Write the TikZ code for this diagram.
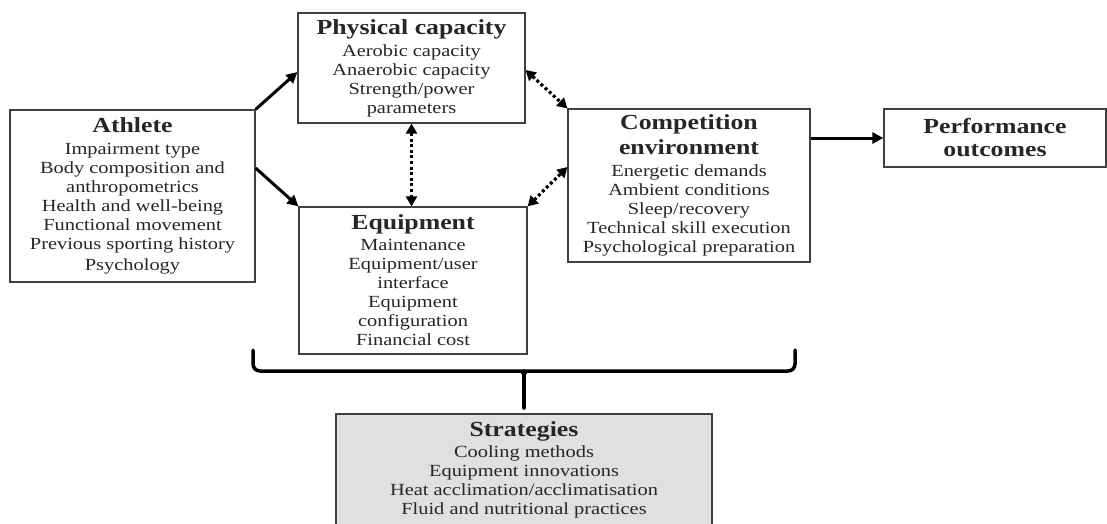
\documentclass[tikz,border=0pt]{standalone}
\usepackage{fontspec}
\setmainfont[FakeStretch=1.2]{Liberation Serif}
\usetikzlibrary{arrows.meta,calc}
\newcommand\ttlfont{\fontsize{21.5}{23}\selectfont\bfseries}
\newcommand\bodyfont{\fontsize{17}{19}\selectfont}
\tikzset{
  x=1pt,y=-1pt,
  box/.style={draw=black!75,line width=1.2pt,inner sep=0pt,align=center,font=\bodyfont,text=black!85},
  solidarr/.style={line width=3pt,-{Triangle[length=11pt,width=11pt]}},
  dotarr/.style={line width=3.2pt,dash pattern=on 3pt off 2.6pt,{Triangle[length=10pt,width=11pt]}-{Triangle[length=10pt,width=11pt]}},
  bracestyle/.style={line width=3.5pt,line cap=round,line join=round}
}
\begin{document}
\begin{tikzpicture}
\useasboundingbox (0,0) rectangle (1107,523);
\node[box,minimum width=245pt,minimum height=172pt] (ath) at (132.5,196)
  {{\ttlfont Athlete}\\[3pt] Impairment type\\ Body composition and\\ anthropometrics\\ Health and well-being\\ Functional movement\\ Previous sporting history\\[2pt] Psychology};
\node[box,minimum width=227pt,minimum height=110pt] (phys) at (411.5,68)
  {{\ttlfont Physical capacity}\\[3pt] Aerobic capacity\\ Anaerobic capacity\\ Strength/power\\ parameters};
\node[box,minimum width=228pt,minimum height=147pt] (equip) at (413,280.5)
  {{\ttlfont Equipment}\\[2pt] Maintenance\\ Equipment/user\\ interface\\ Equipment\\ configuration\\ Financial cost};
\node[box,minimum width=242pt,minimum height=153pt] (comp) at (689,185.5)
  {{\ttlfont Competition}\\[4pt] {\ttlfont environment}\\[3pt] Energetic demands\\ Ambient conditions\\ Sleep/recovery\\ Technical skill execution\\ Psychological preparation};
\node[box,minimum width=222pt,minimum height=58pt] (perf) at (995,138)
  {{\ttlfont Performance}\\[4pt] {\ttlfont outcomes}};
\node[box,fill=black!12,minimum width=376pt,minimum height=111pt] (strat) at (524,469.5)
  {{\ttlfont Strategies}\\[2pt] Cooling methods\\ Equipment innovations\\ Heat acclimation/acclimatisation\\ Fluid and nutritional practices};
% connectors
\draw[solidarr] (ath.north east) -- ([yshift=-4pt]phys.west);
\draw[solidarr] ([yshift=28pt]ath.east) -- (equip.north west);
\draw[dotarr] (phys.south) -- (phys.south |- equip.north);
\draw[dotarr] ([yshift=-2pt]phys.east) -- (comp.north west);
\draw[dotarr] (equip.north east) -- ([yshift=18.5pt]comp.west);
\draw[solidarr] (comp.east |- perf.west) -- (perf.west);
% brace
\coordinate (bl) at (253,350);
\coordinate (br) at (795,350);
\coordinate (bc) at (524,371);
\coordinate (bs) at (524,408);
\draw[bracestyle,rounded corners=7pt] (bl) -- (bl |- bc) -- (br |- bc) -- (br);
\draw[bracestyle] (bc) -- (bs);
\fill ([xshift=-8pt]bc) to[out=0,in=90] ([yshift=-10pt]bc) to[out=90,in=180] ([xshift=8pt]bc) -- cycle;
\end{tikzpicture}
\end{document}
